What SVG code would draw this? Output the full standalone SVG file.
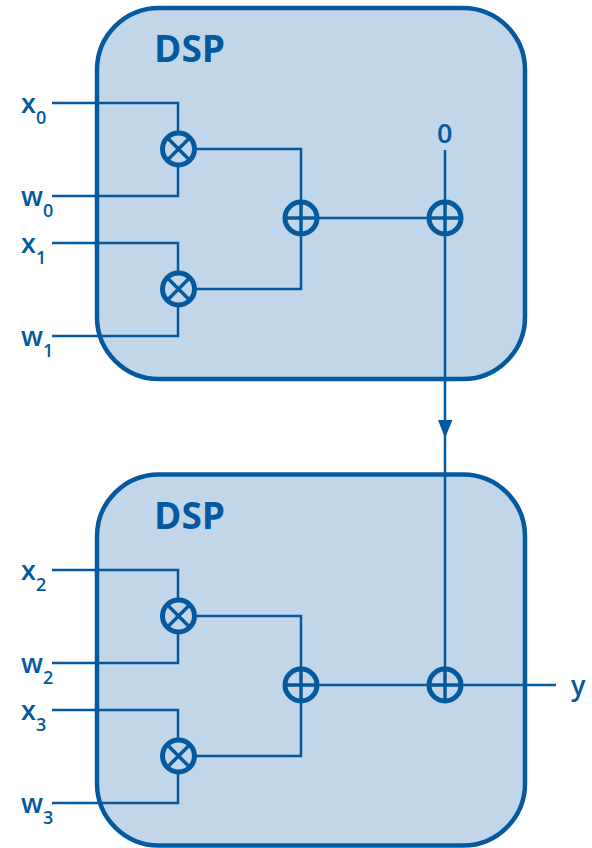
<svg xmlns="http://www.w3.org/2000/svg" width="592" height="848" viewBox="0 0 592 848">
<style>
.box{fill:#c2d6e9;stroke:#04599f;stroke-width:4.500}
.w{fill:none;stroke:#04599f;stroke-width:2.500}
.op{fill:none;stroke:#04599f;stroke-width:5}
.g{fill:none;stroke:#04599f;stroke-width:3.500}
text{font-family:"Open Sans","Liberation Sans",sans-serif;fill:#04599f;font-weight:600}
.t{font-size:37px;font-weight:700}
.l{font-size:27px}
.s{font-size:18px}
</style>
<defs>
<g id="mul"><circle r="16" class="op"/><path class="g" d="M-11-11L11 11M-11 11L11-11"/></g>
<g id="add"><circle r="16" class="op"/><path class="g" d="M-16 0H16M0-16V16"/></g>
</defs>
<g id="dsp1"><rect class="box" x="97" y="8" width="428" height="371" rx="62"/><text class="t" x="154" y="62">DSP</text></g>
<g id="dsp2"><rect class="box" x="97" y="474.500" width="428" height="371" rx="62"/><text class="t" x="154" y="529">DSP</text></g>
<g id="connectors">
<path class="w" d="M52 103H178V133M52 196H178V165M195 149H301V202M52 243H178V273M52 336H178V305M195 289H301V234M318 218H429M445 150V202"/>
<path class="w" d="M52 570H178V600M52 663H178V632M195 616H301V669M52 710H178V740M52 803H178V772M195 756H301V701M318 685H429M461 685H556M445 234V669"/>
<path d="M438 420H452.500L445 438Z" fill="#04599f"/>
</g>
<g id="ops">
<use href="#mul" x="178.500" y="149"/><use href="#mul" x="178.500" y="289"/><use href="#add" x="301" y="218"/><use href="#add" x="445" y="218"/>
<use href="#mul" x="178.500" y="616"/><use href="#mul" x="178.500" y="756"/><use href="#add" x="301" y="685"/><use href="#add" x="445" y="685"/>
</g>
<g id="labels">
<text class="l" x="21" y="113">x</text><text class="s" x="36" y="124">0</text>
<text class="l" x="21" y="206">w</text><text class="s" x="43" y="217">0</text>
<text class="l" x="21" y="253">x</text><text class="s" x="36" y="264">1</text>
<text class="l" x="21" y="346">w</text><text class="s" x="43" y="357">1</text>
<text class="l" x="21" y="580">x</text><text class="s" x="36" y="591">2</text>
<text class="l" x="21" y="673">w</text><text class="s" x="43" y="684">2</text>
<text class="l" x="21" y="720">x</text><text class="s" x="36" y="731">3</text>
<text class="l" x="21" y="813">w</text><text class="s" x="43" y="824">3</text>
<text class="l" x="437" y="143">0</text>
<text class="l" x="571" y="695">y</text>
</g>
</svg>
